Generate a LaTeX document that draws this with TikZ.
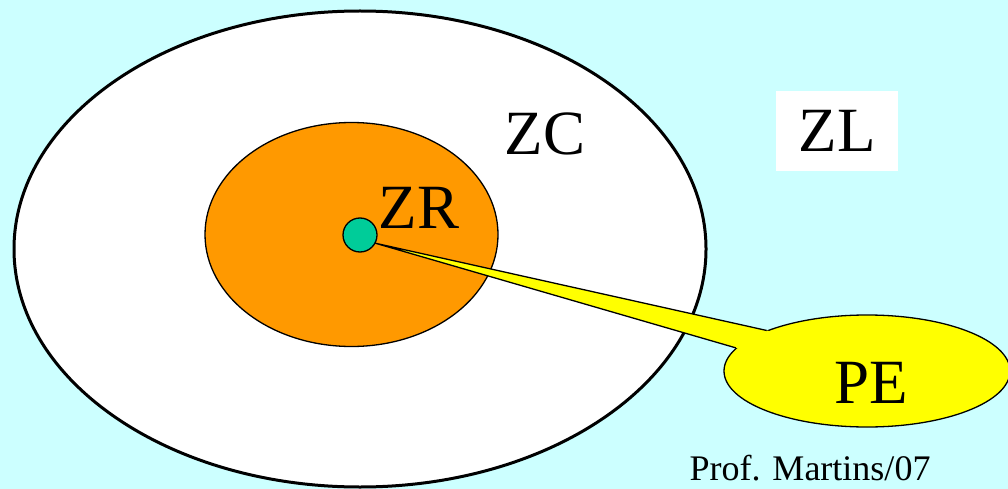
\documentclass[tikz,border=0pt]{standalone}
\usepackage{fontspec}
\setmainfont{Liberation Serif}
\usetikzlibrary{shapes.geometric,calc}
\definecolor{bgcyan}{HTML}{CCFFFF}
\definecolor{zrorange}{HTML}{FF9900}
\definecolor{dotgreen}{HTML}{00CC99}
\definecolor{peyellow}{HTML}{FFFF00}
\tikzset{
  zone/.style={ellipse, draw=black, inner sep=0pt},
  bigtext/.style={font=\fontsize{63}{63}\selectfont, inner sep=0pt},
  smalltext/.style={font=\fontsize{36}{36}\selectfont, inner sep=0pt}
}
\begin{document}
\begin{tikzpicture}[x=1pt,y=-1pt]
\useasboundingbox (0,0) rectangle (1008,489);
\fill[bgcyan] (0,0) rectangle (1008,489);
% outer zone ZC
\node[zone, line width=3pt, fill=white, minimum width=692pt, minimum height=476pt] (zc) at (360,249) {};
% inner zone ZR
\node[zone, line width=1.3pt, fill=zrorange, minimum width=293pt, minimum height=224pt] (zr) at (351.5,234.5) {};
% ZL box
\node[fill=white, minimum width=122pt, minimum height=80pt, bigtext] (zl) at (837,131) {ZL};
% PE callout ellipse
\node[zone, line width=1.3pt, fill=peyellow, minimum width=286pt, minimum height=112pt] (pe) at (867,371) {};
% well dot
\node[circle, draw=black, line width=1.3pt, fill=dotgreen, minimum size=34pt, inner sep=0pt] (dot) at (360,235) {};
% callout tail
\coordinate (tip) at (dot.-28);
\coordinate (p1) at (pe.158);
\coordinate (p2) at (pe.170);
\fill[peyellow] (tip) -- ($(tip)!1.015!(p1)$) -- ($(tip)!1.015!(p2)$) -- cycle;
\draw[line width=1.3pt, line join=round] (p1) -- (tip) -- (p2);
% labels
\node[bigtext, anchor=base] (zclabel) at (545,155) {ZC};
\node[bigtext, anchor=base] (zrlabel) at (419,228) {ZR};
\node[bigtext, anchor=base] (pelabel) at (871,403) {PE};
\node[smalltext, anchor=base] (author) at (810,480) {Prof. Martins/07};
\end{tikzpicture}
\end{document}
